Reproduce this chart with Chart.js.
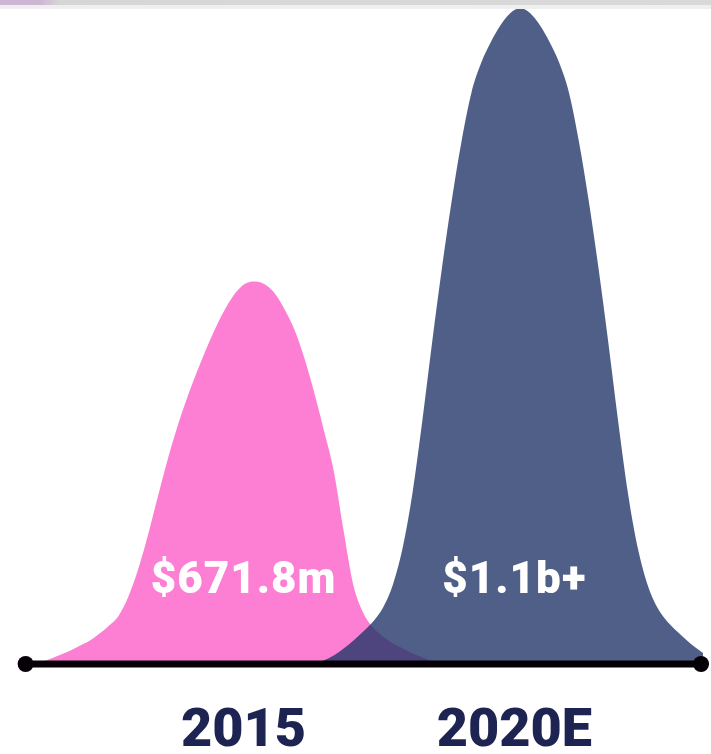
<!DOCTYPE html>
<html>
<head>
<meta charset="utf-8">
<script src="https://cdn.jsdelivr.net/npm/chart.js@4.4.1/dist/chart.umd.min.js"></script>
<style>
  html, body { margin: 0; padding: 0; background: #fff; }
  #wrap { position: relative; width: 711px; height: 754px; }
  #strip { position: absolute; left: 0; top: 0; width: 711px; height: 5px;
           background: linear-gradient(to right, #cdb6d4 0, #cdb6d4 40px, #d6d6d6 60px, #d9d9d9 100%);
           border-bottom: 4px solid #efefef; }
</style>
</head>
<body>
<div id="wrap">
  <canvas id="grafico"></canvas>
  <div id="strip"></div>
</div>
<script>
// anos e valores mostrados
const anos = ['2015', '2020E'];
const rotulos = ['$671.8m', '$1.1b+'];

// contorno da curva 2015 (posicao no eixo, valor em $m)
const rosaX = [23, 33, 43, 53, 63, 73, 83, 93, 103, 113, 123, 133, 143, 153, 163, 173, 183, 193, 203, 213, 223, 233, 243, 253,
               263, 273, 283, 293, 303, 313, 323, 333, 343, 353, 363, 373, 383, 393, 403, 413, 423, 433, 443];
const rosaVal = [0, 3.5, 8.8, 15.8, 22.9, 31.7, 40.4, 52.8, 66.8, 84.4, 117.8, 165.3, 225.1, 291.9, 357.0, 415.1,
                 466.1, 511.8, 554.0, 592.7, 626.1, 652.5, 668.3, 671.8,
                 666.5, 650.7, 622.6, 587.4, 538.2, 478.4, 411.5, 341.2, 237.4, 140.7, 91.5, 65.1, 49.2, 36.9,
                 28.1, 19.3, 12.3, 5.3, 0];

// contorno da curva 2020E
const azulX = [314, 324, 334, 344, 354, 364, 374, 384, 394, 404, 414, 424, 434, 444, 454, 464, 474, 484, 494, 504, 514, 524,
               534, 544, 554, 564, 574, 584, 594, 604, 614, 624, 634, 644, 654, 664, 674, 684, 694, 704, 711];
const azulVal = [0, 7.0, 15.8, 28.1, 42.2, 58.0, 75.6, 100.2, 140.7, 205.8, 302.5, 429.1, 566.3, 696.4, 814.3,
                 918.0, 1002.5, 1055.2, 1092.1, 1122.0, 1143.2, 1152.0,
                 1143.2, 1122.0, 1092.1, 1055.2, 1002.5, 918.0, 814.3, 696.4, 566.3, 429.1, 302.5, 205.8, 140.7,
                 100.2, 75.6, 58.0, 42.2, 28.1, 19.3];

// onde ficam os anos no eixo e altura dos rotulos
const posAnos = [241, 518];
const alturaRotulo = 144;

function pontos(xs, vs) {
    return xs.map((x, i) => ({ x: x, y: vs[i] }));
}

const rotulosPlugin = {
    id: 'rotulos',
    afterDatasetsDraw(chart) {
        const ctx = chart.ctx;
        const sx = chart.scales.x;
        const sy = chart.scales.y;
        ctx.save();
        ctx.fillStyle = '#ffffff';
        ctx.font = '900 44px Roboto';
        ctx.letterSpacing = '1px';
        ctx.textAlign = 'center';
        ctx.textBaseline = 'middle';
        rotulos.forEach((t, i) => {
            ctx.fillText(t, sx.getPixelForValue(posAnos[i]), sy.getPixelForValue(alturaRotulo));
        });
        ctx.restore();
    }
};

const config = {
    type: 'line',
    data: {
        datasets: [
            {
                // linha de base
                data: [{ x: 18, y: 0 }, { x: 709, y: 0 }],
                borderColor: '#050005',
                borderWidth: 7,
                pointRadius: 8,
                pointBackgroundColor: '#050005',
                pointBorderWidth: 0,
                fill: false,
                clip: false
            },
            {
                data: pontos(azulX, azulVal),
                borderWidth: 0,
                pointRadius: 0,
                backgroundColor: 'rgba(35, 55, 105, 0.8)',
                fill: 'origin',
                cubicInterpolationMode: 'monotone'
            },
            {
                data: pontos(rosaX, rosaVal),
                borderWidth: 0,
                pointRadius: 0,
                backgroundColor: '#fd7fd3',
                fill: 'origin',
                cubicInterpolationMode: 'monotone'
            }
        ]
    },
    options: {
        responsive: true,
        maintainAspectRatio: false,
        animation: false,
        layout: { padding: 0 },
        plugins: { legend: { display: false }, tooltip: { enabled: false } },
        scales: {
            x: {
                type: 'linear',
                min: 0,
                max: 711,
                grid: { display: false, drawTicks: false },
                border: { display: false },
                afterBuildTicks: axis => { axis.ticks = posAnos.map(v => ({ value: v })); },
                afterFit: axis => { axis.height = 90; },
                ticks: {
                    callback: (v, i) => anos[i],
                    color: '#1e2452',
                    font: { family: 'Roboto', weight: '900', size: 54, lineHeight: 1 },
                    padding: 41,
                    maxRotation: 0,
                    autoSkip: false
                }
            },
            y: {
                display: false,
                min: 0,
                max: 1152
            }
        }
    },
    plugins: [rotulosPlugin]
};

new Chart(document.getElementById('grafico'), config);
</script>
</body>
</html>
